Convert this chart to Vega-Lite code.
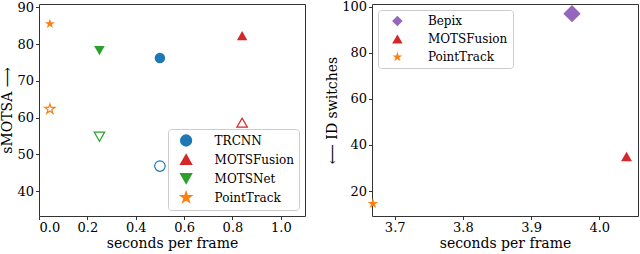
{
  "$schema": "https://vega.github.io/schema/vega-lite/v6.json",
  "padding": {"left": 0, "top": 0, "right": 2, "bottom": 0},
  "background": "white",
  "spacing": 19,
  "config": {
    "font": "DejaVu Serif",
    "view": {"stroke": "#333", "strokeWidth": 1},
    "axis": {"grid": false, "domain": false, "tickColor": "#333", "tickSize": 3.5, "labelFontSize": 13, "titleFontSize": 14, "labelColor": "#000", "titleColor": "#000", "titleFontWeight": "normal", "labelFont": "DejaVu Serif", "titleFont": "DejaVu Serif", "labelPadding": 2, "titlePadding": 2},
    "legend": {"labelFont": "DejaVu Serif", "labelFontSize": 12, "labelColor": "#000", "strokeColor": "#ccc", "fillColor": "white", "cornerRadius": 3, "padding": 5, "rowPadding": 6}
  },
  "datasets": {
    "left": [
      {"method": "TRCNN", "kind": "filled", "spf": 0.5, "smotsa": 76.2},
      {"method": "TRCNN", "kind": "open", "spf": 0.5, "smotsa": 46.8},
      {"method": "MOTSFusion", "kind": "filled", "spf": 0.84, "smotsa": 82.3},
      {"method": "MOTSFusion", "kind": "open", "spf": 0.84, "smotsa": 58.6},
      {"method": "MOTSNet", "kind": "filled", "spf": 0.25, "smotsa": 78.2},
      {"method": "MOTSNet", "kind": "open", "spf": 0.25, "smotsa": 54.8},
      {"method": "PointTrack", "kind": "filled", "spf": 0.045, "smotsa": 85.5},
      {"method": "PointTrack", "kind": "open", "spf": 0.045, "smotsa": 62.3}
    ],
    "right": [
      {"method": "Bepix", "spf": 3.96, "idsw": 97},
      {"method": "MOTSFusion", "spf": 4.04, "idsw": 35},
      {"method": "PointTrack", "spf": 3.668, "idsw": 14.5}
    ]
  },
  "hconcat": [
    {
      "width": 266,
      "height": 212,
      "data": {"name": "left"},
      "encoding": {
        "x": {"field": "spf", "type": "quantitative", "title": "seconds per frame", "scale": {"domain": [0, 1.1], "nice": false, "zero": false}, "axis": {"values": [0, 0.2, 0.4, 0.6, 0.8, 1.0], "format": ".1f"}},
        "y": {"field": "smotsa", "type": "quantitative", "title": "sMOTSA ⟶", "scale": {"domain": [33.2, 90.9], "nice": false, "zero": false}, "axis": {"values": [40, 50, 60, 70, 80, 90]}},
        "color": {"field": "method", "type": "nominal", "scale": {"domain": ["TRCNN", "MOTSFusion", "MOTSNet", "PointTrack"], "range": ["#1f77b4", "#d62728", "#2ca02c", "#ff7f0e"]},
          "legend": {"orient": "bottom-right", "title": null, "offset": 6, "symbolSize": 116, "symbolOffset": 6.6, "labelOffset": 22, "rowPadding": 2}},
        "shape": {"field": "method", "type": "nominal", "scale": {"domain": ["TRCNN", "MOTSFusion", "MOTSNet", "PointTrack"], "range": ["circle", "triangle-up", "triangle-down", "M0,-1L0.2245,-0.309L0.951,-0.309L0.363,0.118L0.588,0.809L0,0.382L-0.588,0.809L-0.363,0.118L-0.951,-0.309L-0.2245,-0.309Z"]}, "legend": null}
      },
      "layer": [
        {
          "transform": [{"filter": "datum.kind === 'filled'"}],
          "mark": {"type": "point", "filled": true, "size": 110, "opacity": 1, "strokeWidth": 1.2}
        },
        {
          "transform": [{"filter": "datum.kind === 'open'"}],
          "mark": {"type": "point", "filled": false, "size": 110, "opacity": 1, "strokeWidth": 1.2}
        }
      ]
    },
    {
      "width": 266,
      "height": 212,
      "data": {"name": "right"},
      "mark": {"type": "point", "filled": true, "opacity": 1},
      "encoding": {
        "x": {"field": "spf", "type": "quantitative", "title": "seconds per frame", "scale": {"domain": [3.6667, 4.0568], "nice": false, "zero": false}, "axis": {"values": [3.7, 3.8, 3.9, 4.0], "format": ".1f"}},
        "y": {"field": "idsw", "type": "quantitative", "title": "⟵ ID switches", "scale": {"domain": [9.15, 101.2], "nice": false, "zero": false}, "axis": {"values": [20, 40, 60, 80, 100]}},
        "size": {"field": "method", "type": "ordinal", "scale": {"type": "ordinal", "domain": ["PointTrack", "MOTSFusion", "Bepix"], "range": [120, 120, 300]}, "legend": null},
        "color": {"field": "method", "type": "nominal", "scale": {"domain": ["Bepix", "MOTSFusion", "PointTrack"], "range": ["#9467bd", "#d62728", "#ff7f0e"]},
          "legend": {"orient": "top-left", "title": null, "offset": 6, "symbolSize": 110, "symbolOffset": 8.4, "labelOffset": 24.5}},
        "shape": {"field": "method", "type": "nominal", "scale": {"domain": ["Bepix", "MOTSFusion", "PointTrack"], "range": ["diamond", "triangle-up", "M0,-1L0.2245,-0.309L0.951,-0.309L0.363,0.118L0.588,0.809L0,0.382L-0.588,0.809L-0.363,0.118L-0.951,-0.309L-0.2245,-0.309Z"]}, "legend": {"orient": "top-left", "title": null, "offset": 6, "symbolSize": 110, "symbolOffset": 8.4, "labelOffset": 24.5}}
      }
    }
  ],
  "resolve": {"scale": {"color": "independent", "shape": "independent", "size": "independent"}, "legend": {"color": "independent", "shape": "independent"}}
}
